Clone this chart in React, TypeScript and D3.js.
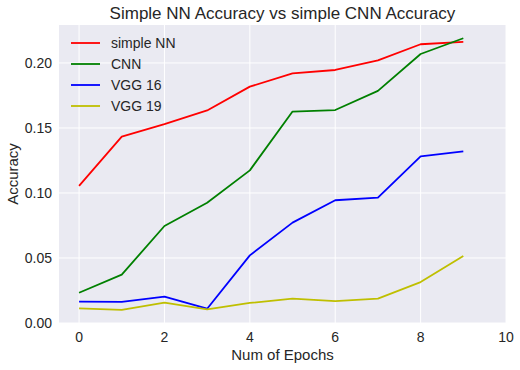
import React, { useEffect, useRef } from "react";
import * as d3 from "d3";

const epochs = [0, 1, 2, 3, 4, 5, 6, 7, 8, 9];
const simpleNN = [0.1054, 0.1433, 0.153, 0.1635, 0.1818, 0.192, 0.1946, 0.202, 0.2144, 0.2162];
const cnn = [0.0233, 0.0372, 0.0746, 0.0925, 0.1174, 0.1626, 0.1638, 0.1785, 0.2069, 0.219];
const vgg16 = [0.0164, 0.0162, 0.0203, 0.011, 0.052, 0.0772, 0.0944, 0.0964, 0.1282, 0.132];
const vgg19 = [0.0113, 0.0101, 0.0156, 0.0105, 0.0154, 0.0187, 0.0169, 0.0187, 0.0315, 0.0515];
const xTicks = [0, 2, 4, 6, 8, 10];
const yTicks = [0, 0.05, 0.1, 0.15, 0.2];

const series = [
  { name: "simple NN", values: simpleNN, color: "#ff0000" },
  { name: "CNN", values: cnn, color: "#008000" },
  { name: "VGG 16", values: vgg16, color: "#0000ff" },
  { name: "VGG 19", values: vgg19, color: "#bfbf00" },
];

export default function App() {
  const ref = useRef<SVGSVGElement>(null);
  const width = 520;
  const height = 370;

  useEffect(() => {
    const margin = { top: 25, right: 14, bottom: 47, left: 59 };
    const svg = d3.select(ref.current).attr("width", width).attr("height", height);
    svg.selectAll("*").remove();
    const font = "'Liberation Sans', Arial, sans-serif";
    const textColor = "#262626";

    const x = d3.scaleLinear().domain([-0.47, 10]).range([margin.left, width - margin.right]);
    const y = d3.scaleLinear().domain([0, 0.2292]).range([height - margin.bottom, margin.top]);

    svg
      .append("rect")
      .attr("x", margin.left)
      .attr("y", margin.top)
      .attr("width", width - margin.left - margin.right)
      .attr("height", height - margin.top - margin.bottom)
      .attr("fill", "#eaeaf2");

    // grid
    svg
      .append("g")
      .selectAll("line")
      .data(xTicks)
      .join("line")
      .attr("x1", (d) => x(d))
      .attr("x2", (d) => x(d))
      .attr("y1", margin.top)
      .attr("y2", height - margin.bottom)
      .attr("stroke", "#ffffff")
      .attr("stroke-width", 1);
    svg
      .append("g")
      .selectAll("line")
      .data(yTicks)
      .join("line")
      .attr("x1", margin.left)
      .attr("x2", width - margin.right)
      .attr("y1", (d) => y(d))
      .attr("y2", (d) => y(d))
      .attr("stroke", "#ffffff")
      .attr("stroke-width", 1);

    // tick labels
    svg
      .append("g")
      .selectAll("text")
      .data(xTicks)
      .join("text")
      .attr("x", (d) => x(d))
      .attr("y", height - margin.bottom + 19)
      .attr("text-anchor", "middle")
      .attr("font-family", font)
      .attr("font-size", 14)
      .attr("fill", textColor)
      .text((d) => d3.format("d")(d));
    svg
      .append("g")
      .selectAll("text")
      .data(yTicks)
      .join("text")
      .attr("x", margin.left - 7)
      .attr("y", (d) => y(d) + 5)
      .attr("text-anchor", "end")
      .attr("font-family", font)
      .attr("font-size", 14)
      .attr("fill", textColor)
      .text((d) => d3.format(".2f")(d));

    // lines
    const line = d3
      .line<number>()
      .x((_, i) => x(epochs[i]))
      .y((d) => y(d));
    series.forEach((s) => {
      svg
        .append("path")
        .datum(s.values)
        .attr("d", line)
        .attr("fill", "none")
        .attr("stroke", s.color)
        .attr("stroke-width", 1.8)
        .attr("stroke-linejoin", "round");
    });

    // legend
    const legend = svg.append("g").attr("transform", `translate(71,43)`);
    series.forEach((s, i) => {
      const g = legend.append("g").attr("transform", `translate(0,${i * 21})`);
      g.append("line")
        .attr("x1", 0)
        .attr("x2", 29)
        .attr("stroke", s.color)
        .attr("stroke-width", 1.8);
      g.append("text")
        .attr("x", 40)
        .attr("y", 5)
        .attr("font-family", font)
        .attr("font-size", 14)
        .attr("fill", textColor)
        .text(s.name);
    });

    // labels
    svg
      .append("text")
      .attr("x", (margin.left + width - margin.right) / 2)
      .attr("y", 360)
      .attr("text-anchor", "middle")
      .attr("font-family", font)
      .attr("font-size", 15)
      .attr("fill", textColor)
      .text("Num of Epochs");
    svg
      .append("text")
      .attr("transform", `translate(18, ${(margin.top + height - margin.bottom) / 2}) rotate(-90)`)
      .attr("text-anchor", "middle")
      .attr("font-family", font)
      .attr("font-size", 15)
      .attr("fill", textColor)
      .text("Accuracy");

    // title
    svg
      .append("text")
      .attr("x", (margin.left + width - margin.right) / 2)
      .attr("y", 19)
      .attr("text-anchor", "middle")
      .attr("font-family", font)
      .attr("font-size", 17)
      .attr("fill", textColor)
      .text("Simple NN Accuracy vs simple CNN Accuracy");
  }, []);

  return (
    <svg
      ref={ref}
      style={{ position: "absolute", left: 0, top: 0, background: "#ffffff" }}
    />
  );
}
